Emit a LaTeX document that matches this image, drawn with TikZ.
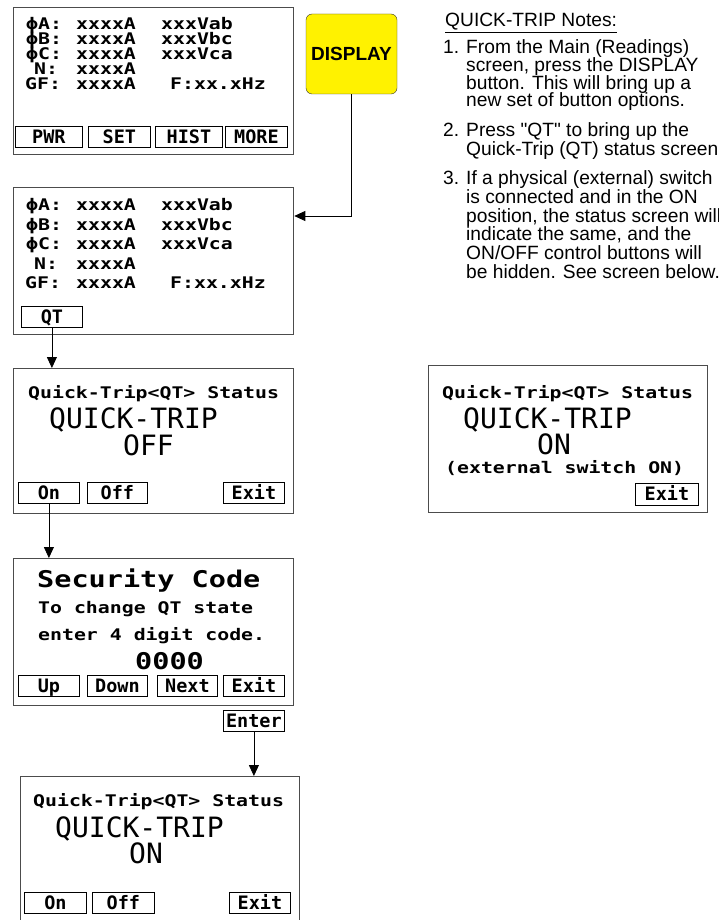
\documentclass[tikz,border=0pt]{standalone}
\usepackage{fontspec}
\setmainfont{Liberation Sans}
\newfontfamily\lcdfont[FakeStretch=1.24]{DejaVu Sans Mono}
\newfontfamily\lcdbigfont{DejaVu Sans Mono}
\usetikzlibrary{arrows.meta}
\newcommand{\lcd}{\lcdfont\bfseries\fontsize{16}{16}\selectfont}
\newcommand{\lcdmid}{\lcdfont\bfseries\fontsize{23}{23}\selectfont}
\newcommand{\lcdbig}{\lcdbigfont\fontsize{28}{28}\selectfont}
\newcommand{\arw}{-{Triangle[length=11pt,width=10pt]}}
% one block of readings: name, first baseline, row step
\newcommand{\readings}[3]{
\node[txt] (#1pa) at (26,#2) {ϕA:};
\node[txt] (#1ia) at (76,#2) {xxxxA};
\node[txt] (#1va) at (161,#2) {xxxVab};
\node[txt] (#1pb) at (26,{#2+#3}) {ϕB:};
\node[txt] (#1ib) at (76,{#2+#3}) {xxxxA};
\node[txt] (#1vb) at (161,{#2+#3}) {xxxVbc};
\node[txt] (#1pc) at (26,{#2+2*#3}) {ϕC:};
\node[txt] (#1ic) at (76,{#2+2*#3}) {xxxxA};
\node[txt] (#1vc) at (161,{#2+2*#3}) {xxxVca};
\node[txt] (#1pn) at (34,{#2+3*#3}) {N:};
\node[txt] (#1in) at (76,{#2+3*#3}) {xxxxA};
\node[txt] (#1pg) at (25,{#2+4*#3}) {GF:};
\node[txt] (#1ig) at (76,{#2+4*#3}) {xxxxA};
\node[txt] (#1fg) at (170,{#2+4*#3}) {F:xx.xHz};
}
\tikzset{
  screen/.style={draw=black!70, line width=1.3pt, anchor=north west, inner sep=0pt,
    minimum width=280pt, minimum height=147pt},
  key/.style={draw, line width=0.8pt, anchor=north west, inner sep=0pt, minimum height=21pt,
    text height=12.5pt, text depth=0pt, font=\lcdbigfont\bfseries\fontsize{18.5}{18.5}\selectfont},
  txt/.style={anchor=base west, inner sep=0pt, font=\lcd},
  mid/.style={anchor=base west, inner sep=0pt, font=\lcdmid},
  big/.style={anchor=base west, inner sep=0pt, font=\lcdbig},
  note/.style={anchor=base west, inner sep=0pt, font=\fontsize{19.2}{18.5}\selectfont},
}

\begin{document}
\begin{tikzpicture}[x=1pt,y=-1pt]
\fill[white] (0,0) rectangle (719,920);
\useasboundingbox (0,0) rectangle (719,920);
%main screen
\node[screen] (main) at (13,7) {};
\readings{m}{29.5}{15}
\node[key, minimum width=67pt] (pwr) at (15,126) {PWR};
\node[key, minimum width=62pt] (set) at (88,126) {SET};
\node[key, minimum width=67pt] (hist) at (155,126) {HIST};
\node[key, minimum width=62pt] (more) at (225,126) {MORE};
\node[draw=black!80, fill=yellow, rounded corners=6pt, minimum width=91pt, minimum height=80pt,
  inner sep=0pt, font=\bfseries\fontsize{19}{19}\selectfont] (disp) at (351.5,54) {DISPLAY};
%display options
\node[screen] (opts) at (13,187) {};
\readings{o}{210.5}{19.5}
\node[key, minimum width=61pt] (qt) at (21,306) {QT};
%quick-trip off
\node[screen, minimum height=145pt] (status) at (13,368) {};
\node[txt] (st) at (28,398) {Quick-Trip<QT> Status};
\node[big] (sq) at (49,428) {QUICK-TRIP};
\node[big] (so) at (123,455) {OFF};
\node[key, minimum width=61pt] (on) at (18,482) {On};
\node[key, minimum width=60pt] (off) at (87,482) {Off};
\node[key, minimum width=61pt] (exit) at (223,482) {Exit};
%security code
\node[screen] (code) at (13,558) {};
\node[mid] (ct) at (37,587) {Security Code};
\node[txt] (c1) at (38,613) {To change QT state};
\node[txt] (c2) at (38,640) {enter 4 digit code.};
\node[mid] (cd) at (135,669) {0000};
\node[key, minimum width=61pt] (up) at (18,675) {Up};
\node[key, minimum width=60pt] (down) at (87,675) {Down};
\node[key, minimum width=60pt] (next) at (157,675) {Next};
\node[key, minimum width=61pt] (cexit) at (223,675) {Exit};
\node[key, minimum width=61pt] (enter) at (223,710) {Enter};
%quick-trip on
\node[screen, minimum width=279pt, minimum height=152pt] (done) at (20,776) {};
\node[txt] (dt) at (33,806) {Quick-Trip<QT> Status};
\node[big] (dq) at (55,837) {QUICK-TRIP};
\node[big] (do) at (129,863) {ON};
\node[key, minimum width=62pt] (don) at (24,892) {On};
\node[key, minimum width=62pt] (doff) at (92,892) {Off};
\node[key, minimum width=61pt] (dexit) at (229,892) {Exit};
%external switch
\node[screen, minimum width=279pt] (ext) at (428,365) {};
\node[txt] (et) at (442,398) {Quick-Trip<QT> Status};
\node[big] (eq) at (463,428) {QUICK-TRIP};
\node[big] (eo) at (537,454) {ON};
\node[txt] (es) at (445,473) {(external switch ON)};
\node[key, minimum width=63pt, minimum height=22pt] (eexit) at (635,483) {Exit};
%arrows
\draw[line width=0.8pt,\arw] (disp.south) |- ([yshift=-29pt]opts.north east);
\draw[line width=0.8pt,\arw] (qt.south) -- (qt.south |- status.north);
\draw[line width=0.8pt,\arw] (on.south) -- (on.south |- code.north);
\draw[line width=0.8pt,\arw] (enter.south) -- (enter.south |- done.north);
%notes
\node[note] (head) at (445,27) {\underline{QUICK-TRIP Notes:}};
\node[note] (k1) at (443,54) {1.};
\node[note] (n11) at (466,54) {From the Main (Readings)};
\node[note] (n12) at (466,71.7) {screen, press the DISPLAY};
\node[note] (n13) at (466,89.4) {button. This will bring up a};
\node[note] (n14) at (466,107) {new set of button options.};
\node[note] (k2) at (443,137) {2.};
\node[note] (n21) at (466,137) {Press \textquotedbl QT\textquotedbl{} to bring up the};
\node[note] (n22) at (466,155.5) {Quick-Trip (QT) status screen.};
\node[note] (k3) at (443,185) {3.};
\node[note] (n31) at (466,185) {If a physical (external) switch};
\node[note] (n32) at (466,203.6) {is connected and in the ON};
\node[note] (n33) at (466,222.2) {position, the status screen will};
\node[note] (n34) at (466,240.8) {indicate the same, and the};
\node[note] (n35) at (466,259.4) {ON/OFF control buttons will};
\node[note] (n36) at (466,278) {be hidden. See screen below.};
\end{tikzpicture}
\end{document}
